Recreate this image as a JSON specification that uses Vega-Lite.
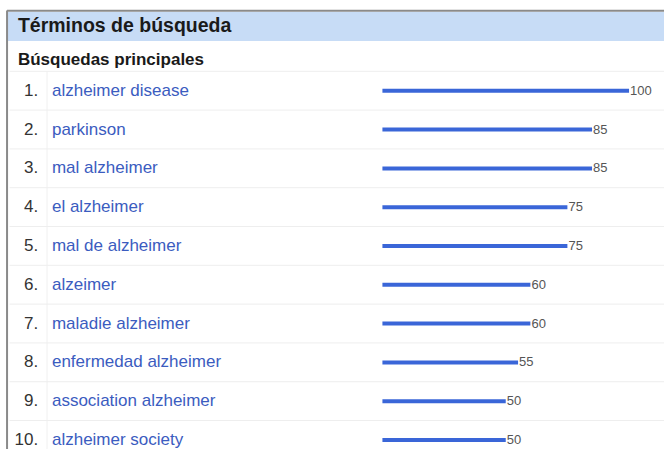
{
  "$schema": "https://vega.github.io/schema/vega-lite/v6.json",
  "width": 665,
  "height": 450,
  "autosize": {"type": "fit", "contains": "padding"},
  "padding": 0,
  "background": "#ffffff",
  "config": {"view": {"stroke": null}, "font": "Liberation Sans"},
  "datasets": {
    "rows": [
      {"rank": 1, "label": "1.", "term": "alzheimer disease", "value": 100},
      {"rank": 2, "label": "2.", "term": "parkinson", "value": 85},
      {"rank": 3, "label": "3.", "term": "mal alzheimer", "value": 85},
      {"rank": 4, "label": "4.", "term": "el alzheimer", "value": 75},
      {"rank": 5, "label": "5.", "term": "mal de alzheimer", "value": 75},
      {"rank": 6, "label": "6.", "term": "alzeimer", "value": 60},
      {"rank": 7, "label": "7.", "term": "maladie alzheimer", "value": 60},
      {"rank": 8, "label": "8.", "term": "enfermedad alzheimer", "value": 55},
      {"rank": 9, "label": "9.", "term": "association alzheimer", "value": 50},
      {"rank": 10, "label": "10.", "term": "alzheimer society", "value": 50}
    ],
    "one": [{"k": 1}]
  },
  "layer": [
    {
      "data": {"name": "one"},
      "mark": {"type": "rect", "color": "#c7dcf6"},
      "encoding": {
        "x": {"datum": -151.8, "type": "quantitative", "axis": null,
              "scale": {"domain": [-155.06, 114.17], "nice": false, "zero": false}},
        "x2": {"datum": 114.17},
        "y": {"datum": -1.031, "type": "quantitative", "axis": null,
              "scale": {"domain": [-1.34, 10.231], "reverse": true, "nice": false, "zero": false}},
        "y2": {"datum": -0.285}
      }
    },
    {
      "data": {"name": "one"},
      "mark": {"type": "rule", "color": "#8a8a8a", "strokeWidth": 2},
      "encoding": {
        "x": {"datum": -152.2, "type": "quantitative"},
        "x2": {"datum": 114.17},
        "y": {"datum": -1.06, "type": "quantitative"}
      }
    },
    {
      "data": {"name": "one"},
      "mark": {"type": "rule", "color": "#8a8a8a", "strokeWidth": 2},
      "encoding": {
        "x": {"datum": -152.2, "type": "quantitative"},
        "y": {"datum": -1.07, "type": "quantitative"},
        "y2": {"datum": 10.231}
      }
    },
    {
      "data": {"name": "one"},
      "mark": {"type": "rule", "color": "#f0f0f0", "strokeWidth": 1},
      "encoding": {
        "x": {"datum": -136.0, "type": "quantitative"},
        "y": {"datum": 0.5, "type": "quantitative"},
        "y2": {"datum": 10.231}
      }
    },
    {
      "data": {"name": "one"},
      "mark": {"type": "text", "text": "Términos de búsqueda", "align": "left", "baseline": "middle",
               "fontSize": 19.5, "fontWeight": "bold", "color": "#1a1a1a"},
      "encoding": {
        "x": {"datum": -147.8, "type": "quantitative"},
        "y": {"datum": -0.671, "type": "quantitative"}
      }
    },
    {
      "data": {"name": "one"},
      "mark": {"type": "text", "text": "Búsquedas principales", "align": "left", "baseline": "middle",
               "fontSize": 17, "fontWeight": "bold", "color": "#1a1a1a"},
      "encoding": {
        "x": {"datum": -147.8, "type": "quantitative"},
        "y": {"datum": 0.203, "type": "quantitative"}
      }
    },
    {
      "data": {"name": "rows"},
      "mark": {"type": "rule", "color": "#eeeeee", "strokeWidth": 1, "yOffset": -19.5},
      "encoding": {
        "x": {"datum": -151.2, "type": "quantitative"},
        "x2": {"datum": 114.17},
        "y": {"field": "rank", "type": "quantitative"}
      }
    },
    {
      "data": {"name": "rows"},
      "mark": {"type": "text", "align": "right", "baseline": "middle", "fontSize": 17, "color": "#333333"},
      "encoding": {
        "x": {"datum": -139.6, "type": "quantitative"},
        "y": {"field": "rank", "type": "quantitative"},
        "text": {"field": "label", "type": "nominal"}
      }
    },
    {
      "data": {"name": "rows"},
      "mark": {"type": "text", "align": "left", "baseline": "middle", "fontSize": 17, "color": "#3b5cc0"},
      "encoding": {
        "x": {"datum": -134.0, "type": "quantitative"},
        "y": {"field": "rank", "type": "quantitative"},
        "text": {"field": "term", "type": "nominal"}
      }
    },
    {
      "data": {"name": "rows"},
      "mark": {"type": "rule", "color": "#3a66d8", "strokeWidth": 4},
      "encoding": {
        "x": {"field": "value", "type": "quantitative"},
        "x2": {"datum": 0},
        "y": {"field": "rank", "type": "quantitative"}
      }
    },
    {
      "data": {"name": "rows"},
      "mark": {"type": "text", "align": "left", "baseline": "middle", "fontSize": 13, "dx": 1, "color": "#555555"},
      "encoding": {
        "x": {"field": "value", "type": "quantitative"},
        "y": {"field": "rank", "type": "quantitative"},
        "text": {"field": "value", "type": "quantitative"}
      }
    }
  ]
}
